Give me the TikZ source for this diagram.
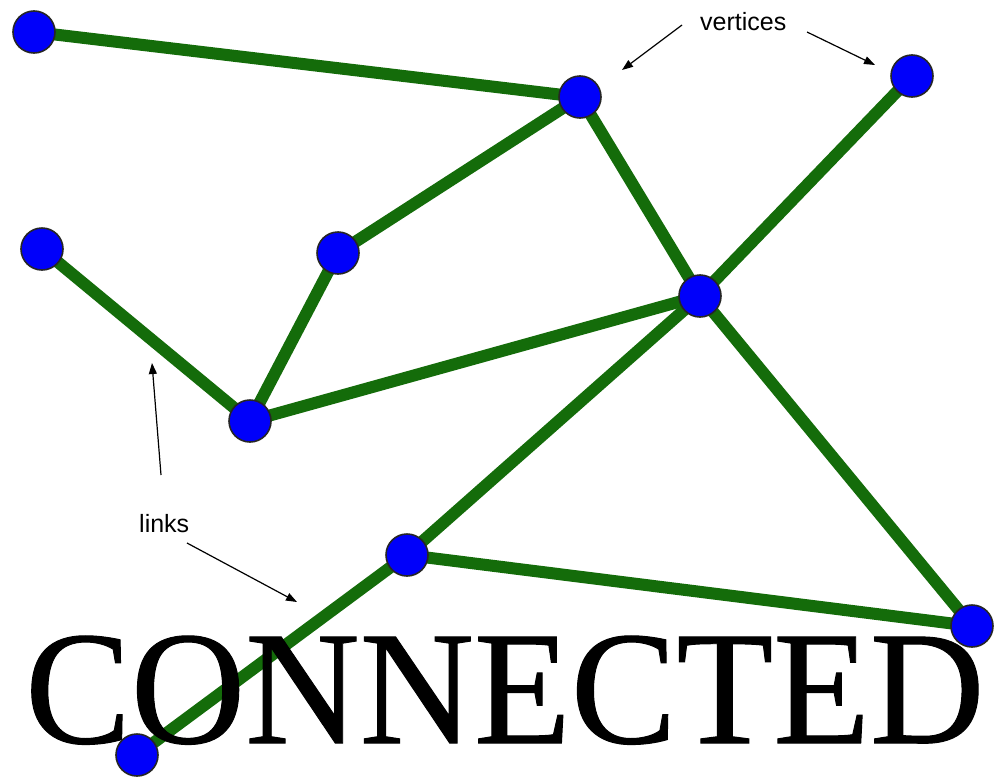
\documentclass[tikz,border=0pt]{standalone}
\usepackage{fontspec}
\setmainfont{Liberation Serif}
\newfontfamily\labelfont{Liberation Sans}
\newfontfamily\bigfont[FakeBold=0.6]{Liberation Serif}
\usetikzlibrary{arrows.meta}
\definecolor{linkgreen}{RGB}{20,108,10}
\definecolor{vblue}{RGB}{0,0,250}
\begin{document}
\begin{tikzpicture}[x=1pt,y=-1pt,
  vertex/.style={circle,fill=vblue,draw=black!85,line width=1.6pt,minimum size=42pt,inner sep=0pt},
  link/.style={draw=linkgreen,line width=12pt},
  pointer/.style={draw=black,line width=1.2pt,-{Triangle[length=11pt,width=8pt]}},
  lbl/.style={font=\labelfont\fontsize{25}{30}\selectfont,inner sep=0pt,anchor=base west},
  big/.style={font=\bigfont\fontsize{162}{170}\selectfont,inner sep=0pt,anchor=base west}]
\useasboundingbox (0,0) rectangle (1000,779);
% vertex positions
\coordinate (pA) at (34,32);
\coordinate (pB) at (580,97);
\coordinate (pC) at (912,76);
\coordinate (pD) at (42,249);
\coordinate (pE) at (338,253);
\coordinate (pF) at (700,296);
\coordinate (pG) at (250,421);
\coordinate (pH) at (407,555);
\coordinate (pI) at (972,626);
\coordinate (pJ) at (137,755);
% links
\draw[link] (pA) -- (pB);
\draw[link] (pB) -- (pE);
\draw[link] (pB) -- (pF);
\draw[link] (pC) -- (pF);
\draw[link] (pD) -- (pG);
\draw[link] (pG) -- (pE);
\draw[link] (pG) -- (pF);
\draw[link] (pF) -- (pH);
\draw[link] (pH) -- (pJ);
\draw[link] (pH) -- (pI);
\draw[link] (pF) -- (pI);
% title
\node[big] (title) at (25,743) {\scalebox{0.978}[1]{CONNECTED}};
% vertices
\foreach \v in {A,B,C,D,E,F,G,H,I,J}
  \node[vertex] (\v) at (p\v) {};
% labels
\node[lbl] (vert) at (700,30) {vertices};
\node[lbl] (links) at (139,532) {links};
\coordinate (v1s) at (682,25);
\coordinate (v1e) at (622,70);
\coordinate (v2s) at (807,32);
\coordinate (v2e) at (875,65);
\coordinate (l1s) at (161,475);
\coordinate (l1e) at (152,363);
\coordinate (l2s) at (187,543);
\coordinate (l2e) at (297,602);
\draw[pointer] (v1s) -- (v1e);
\draw[pointer] (v2s) -- (v2e);
\draw[pointer] (l1s) -- (l1e);
\draw[pointer] (l2s) -- (l2e);
\end{tikzpicture}
\end{document}
